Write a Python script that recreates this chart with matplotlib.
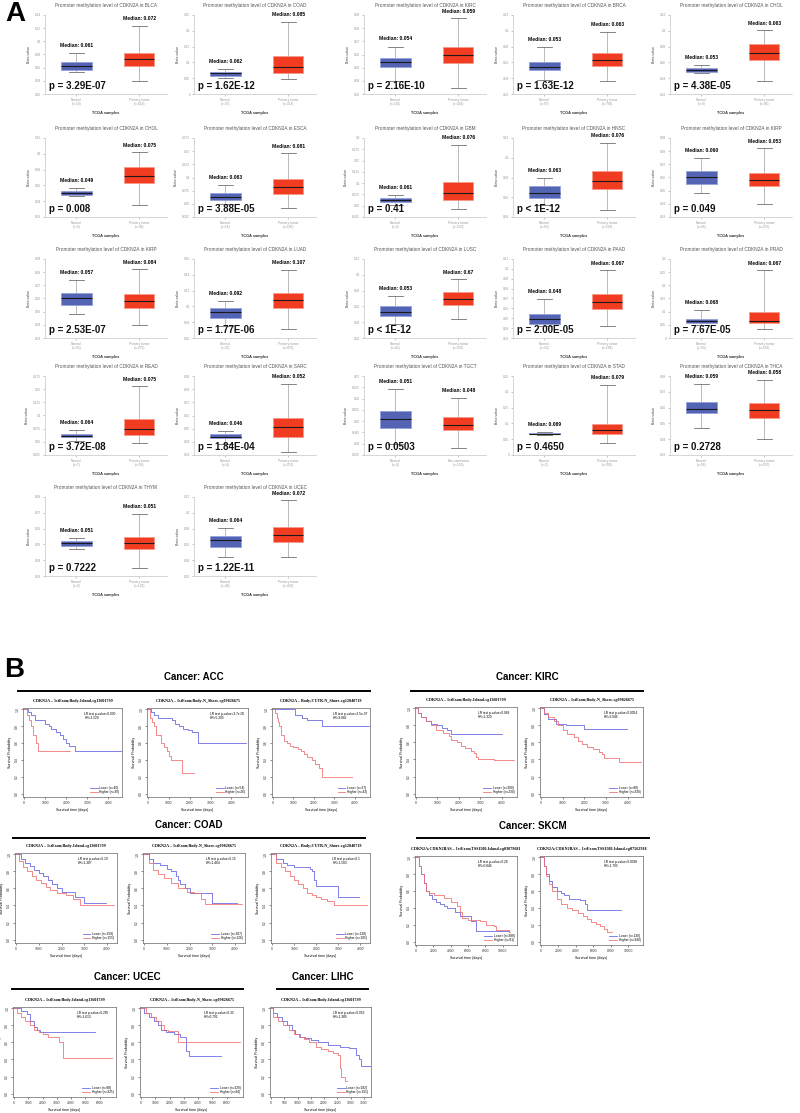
import matplotlib
matplotlib.use('Agg')
import matplotlib.pyplot as plt
from matplotlib.lines import Line2D
import numpy as np

plt.rcParams['font.family'] = ['Liberation Sans', 'DejaVu Sans']

W, H = 800, 1113
fig = plt.figure(figsize=(8, 11.13), dpi=100)

def px_axes(x, y, w, h):
    return fig.add_axes([x / W, 1 - (y + h) / H, w / W, h / H])

# ---------------- Panel A data ----------------
cancers = ['BLCA', 'COAD', 'KIRC', 'BRCA', 'CHOL',
           'CHOL', 'ESCA', 'GBM', 'HNSC', 'KIRP',
           'KIRP', 'LUAD', 'LUSC', 'PAAD', 'PRAD',
           'READ', 'SARC', 'TGCT', 'STAD', 'THCA',
           'THYM', 'UCEC']
# [whislo, q1, med, q3, whishi]
normal_stats = [
    [0.0535, 0.0565, 0.062, 0.0685, 0.0825],
    [0.050, 0.058, 0.065, 0.071, 0.079],
    [0.040, 0.0505, 0.0545, 0.0573, 0.066],
    [0.038, 0.050, 0.0536, 0.060, 0.079],
    [0.0465, 0.048, 0.0503, 0.0523, 0.0566],
    [0.0466, 0.0483, 0.0508, 0.0533, 0.0563],
    [0.0497, 0.0567, 0.063, 0.0706, 0.0858],
    [0.051, 0.0577, 0.0636, 0.068, 0.074],
    [0.052, 0.0595, 0.064, 0.0714, 0.0795],
    [0.0482, 0.0553, 0.0604, 0.0647, 0.0746],
    [0.048, 0.0551, 0.0601, 0.0642, 0.0738],
    [0.0752, 0.085, 0.0925, 0.0976, 0.1068],
    [0.0377, 0.0478, 0.0525, 0.060, 0.0732],
    [0.0418, 0.0438, 0.0489, 0.0546, 0.0698],
    [0.050, 0.057, 0.0646, 0.073, 0.106],
    [0.052, 0.059, 0.061, 0.0643, 0.0725],
    [0.0384, 0.043, 0.044, 0.046, 0.048],
    [0.040, 0.0471, 0.0511, 0.0544, 0.0644],
    [0.064, 0.065, 0.067, 0.0695, 0.072],
    [0.0472, 0.0564, 0.0594, 0.0634, 0.0747],
    [0.047, 0.0491, 0.0511, 0.0521, 0.054],
    [0.0443, 0.0562, 0.0655, 0.0702, 0.0804],
]
tumor_stats = [
    [0.0395, 0.0625, 0.0725, 0.0825, 0.124],
    [0.047, 0.068, 0.085, 0.121, 0.229],
    [0.0346, 0.0535, 0.0595, 0.066, 0.0875],
    [0.0368, 0.0549, 0.0633, 0.0717, 0.099],
    [0.036, 0.0633, 0.0717, 0.0834, 0.101],
    [0.0356, 0.0635, 0.0715, 0.0833, 0.1018],
    [0.0427, 0.0693, 0.082, 0.0978, 0.1465],
    [0.043, 0.0628, 0.0776, 0.1034, 0.185],
    [0.0474, 0.0683, 0.0768, 0.0866, 0.115],
    [0.040, 0.0533, 0.0584, 0.0634, 0.0824],
    [0.0399, 0.053, 0.0581, 0.0632, 0.0822],
    [0.071, 0.0984, 0.1077, 0.1165, 0.1465],
    [0.0445, 0.0614, 0.0698, 0.0787, 0.0947],
    [0.042, 0.059, 0.0667, 0.0745, 0.0989],
    [0.034, 0.056, 0.065, 0.100, 0.258],
    [0.0484, 0.063, 0.0737, 0.094, 0.156],
    [0.032, 0.044, 0.051, 0.0579, 0.0842],
    [0.038, 0.046, 0.0482, 0.052, 0.0603],
    [0.038, 0.066, 0.080, 0.098, 0.222],
    [0.0402, 0.0532, 0.0585, 0.0626, 0.0777],
    [0.035, 0.0468, 0.0511, 0.0549, 0.0694],
    [0.044, 0.0625, 0.0723, 0.0826, 0.116],
]
normal_median_labels = ['0.061', '0.062', '0.054', '0.053', '0.053',
                        '0.049', '0.063', '0.061', '0.063', '0.060',
                        '0.057', '0.092', '0.053', '0.048', '0.068',
                        '0.064', '0.046', '0.051', '0.069', '0.059',
                        '0.051', '0.064']
tumor_median_labels = ['0.072', '0.085', '0.059', '0.063', '0.063',
                       '0.075', '0.081', '0.076', '0.076', '0.053',
                       '0.084', '0.107', '0.67', '0.067', '0.067',
                       '0.075', '0.052', '0.048', '0.079', '0.058',
                       '0.051', '0.072']
p_values = ['p = 3.29E-07', 'p = 1.62E-12', 'p = 2.16E-10', 'p = 1.63E-12', 'p = 4.38E-05',
            'p = 0.008', 'p = 3.88E-05', 'p = 0.41', 'p < 1E-12', 'p = 0.049',
            'p = 2.53E-07', 'p = 1.77E-06', 'p < 1E-12', 'p = 2.00E-05', 'p = 7.67E-05',
            'p = 3.72E-08', 'p = 1.84E-04', 'p = 0.0503', 'p = 0.4650', 'p = 0.2728',
            'p = 0.7222', 'p = 1.22E-11']
normal_n = [19, 37, 160, 97, 9, 9, 16, 2, 50, 45, 45, 32, 42, 10, 50, 7, 4, 4, 2, 56, 2, 46]
tumor_n = [418, 313, 324, 793, 36, 36, 185, 140, 528, 275, 275, 473, 370, 184, 503, 98, 261, 156, 395, 507, 124, 438]
y_ranges = [(0.02, 0.14, 0.02), (0.0, 0.25, 0.05), (0.03, 0.09, 0.01), (0.02, 0.12, 0.02), (0.02, 0.12, 0.02),
            (0.02, 0.12, 0.02), (0.025, 0.175, 0.025), (0.025, 0.2, 0.025), (0.04, 0.12, 0.02), (0.03, 0.09, 0.01),
            (0.03, 0.09, 0.01), (0.06, 0.16, 0.02), (0.02, 0.12, 0.02), (0.03, 0.11, 0.01), (0.0, 0.3, 0.05),
            (0.025, 0.175, 0.025), (0.03, 0.09, 0.01), (0.035, 0.07, 0.005), (0.0, 0.25, 0.05), (0.03, 0.08, 0.01),
            (0.03, 0.08, 0.01), (0.02, 0.12, 0.02)]

col_left = [45, 194, 364, 513, 670]
row_top = [15, 138, 259, 376, 497]
BOX_W, BOX_H = 122, 79

def fmt_tick(v):
    s = ('%.3f' % v).rstrip('0').rstrip('.')
    return s if s else '0'

for i, cname in enumerate(cancers):
    r, c = divmod(i, 5)
    ax = px_axes(col_left[c], row_top[r], BOX_W, BOX_H)
    keys = ['whislo', 'q1', 'med', 'q3', 'whishi']
    st_n = dict(zip(keys, normal_stats[i]))
    st_t = dict(zip(keys, tumor_stats[i]))
    bp = ax.bxp([st_n, st_t], positions=[1, 2], widths=0.48, patch_artist=True,
                showfliers=False, capwidths=0.24,
                medianprops=dict(color='#1a1a1a', lw=0.8),
                whiskerprops=dict(color='#a0a0a0', lw=0.5),
                capprops=dict(color='#707070', lw=0.6))
    bp['boxes'][0].set(facecolor='#5464b4', edgecolor='#95a0dc', lw=0.6)
    bp['boxes'][1].set(facecolor='#f23c22', edgecolor='#f79a8c', lw=0.6)
    lo, hi, step = y_ranges[i]
    ax.set_ylim(lo, hi)
    ticks = np.arange(lo, hi + step / 2, step)
    ax.set_yticks(ticks)
    ax.set_yticklabels([fmt_tick(t) for t in ticks])
    ax.set_xlim(0.5, 2.44)
    ax.set_xticks([1, 2])
    tlabel = 'Non-seminoma' if cname == 'TGCT' else 'Primary tumor'
    ax.set_xticklabels(['Normal\n(n=%d)' % normal_n[i], '%s\n(n=%d)' % (tlabel, tumor_n[i])])
    ax.tick_params(axis='both', labelsize=2.3, colors='#999999', length=1.5, width=0.4, pad=1.2)
    for sp in ['top', 'right']:
        ax.spines[sp].set_visible(False)
    for sp in ['left', 'bottom']:
        ax.spines[sp].set_color('#cfcfcf')
        ax.spines[sp].set_linewidth(0.6)
    ax.set_title('Promoter methylation level of CDKN2A in %s' % cname, fontsize=3.4, color='#555555', pad=6)
    ax.set_ylabel('Beta value', fontsize=2.6, color='#444444', labelpad=3)
    ax.set_xlabel('TCGA samples', fontsize=2.8, color='#333333', fontweight='bold', labelpad=3)
    ax.annotate('Median: %s' % normal_median_labels[i], (1, st_n['whishi']), xytext=(0, 5.5),
                textcoords='offset points', ha='center', va='center', fontsize=3.6, fontweight='bold')
    ax.annotate('Median: %s' % tumor_median_labels[i], (2, st_t['whishi']), xytext=(0, 5.0),
                textcoords='offset points', ha='center', va='center', fontsize=3.6, fontweight='bold')
    ax.text(0.03, 0.035, p_values[i], transform=ax.transAxes, fontsize=7, fontweight='bold',
            ha='left', va='bottom', color='#111111')

fig.text(5 / W, 1 - 14 / H, 'A', fontsize=20, fontweight='bold', ha='left', va='center')
fig.text(4 / W, 1 - 670 / H, 'B', fontsize=20, fontweight='bold', ha='left', va='center')

# ---------------- Panel B data ----------------
probe_island = 'CDKN2A \u2013 1stExon;Body-Island-cg13601799'
probe_nshore = 'CDKN2A \u2013 1stExon;Body-N_Shore-cg09826675'
probe_utr = "CDKN2A \u2013 Body;3'UTR-N_Shore-cg12840719"
probe_skcm1 = 'CDKN2A;CDKN2BAS \u2013 1stExon;TSS1500-Island-cg03079681'
probe_skcm2 = 'CDKN2A;CDKN2BAS \u2013 1stExon;TSS1500-Island-cg07562918'

ACC1_low_t = [0, 200, 350, 500, 1000, 1200, 1300, 1500, 1700, 1850, 2000, 2150, 2400, 4600]
ACC1_low_s = [1.0, 0.97, 0.93, 0.87, 0.83, 0.80, 0.77, 0.73, 0.70, 0.65, 0.60, 0.57, 0.50, 0.50]
ACC1_high_t = [0, 150, 250, 350, 450, 550, 650, 2200]
ACC1_high_s = [1.0, 0.93, 0.87, 0.80, 0.70, 0.60, 0.50, 0.50]

ACC2_low_t = [0, 150, 300, 500, 1150, 1300, 1500, 1700, 1900, 2100, 2400, 4700]
ACC2_low_s = [1.0, 0.97, 0.93, 0.90, 0.87, 0.83, 0.80, 0.77, 0.75, 0.73, 0.60, 0.60]
ACC2_high_t = [0, 100, 200, 290, 400, 600, 750, 920, 1000, 1100, 1630, 2220]
ACC2_high_s = [1.0, 0.90, 0.85, 0.80, 0.70, 0.60, 0.55, 0.50, 0.45, 0.40, 0.24, 0.24]

ACC3_low_t = [0, 1100, 1400, 1650, 2400, 4700]
ACC3_low_s = [1.0, 0.93, 0.90, 0.87, 0.80, 0.80]
ACC3_high_t = [0, 80, 180, 250, 300, 370, 530, 700, 850, 1000, 1230, 1350, 1530, 1660, 1900, 2060, 2250, 2420, 3890]
ACC3_high_s = [1.0, 0.95, 0.90, 0.85, 0.80, 0.70, 0.62, 0.60, 0.57, 0.55, 0.53, 0.50, 0.47, 0.43, 0.40, 0.35, 0.30, 0.20, 0.20]

KIRC1_low_t = [0, 100, 230, 460, 700, 1000, 1230, 1460, 1620, 4000]
KIRC1_low_s = [1.0, 0.95, 0.90, 0.85, 0.82, 0.80, 0.77, 0.74, 0.70, 0.70]
KIRC1_high_t = [0, 100, 230, 460, 700, 950, 1250, 1550, 1650, 1900, 2100, 2300, 2550, 2700, 2800, 2880, 3640, 4540]
KIRC1_high_s = [1.0, 0.95, 0.90, 0.85, 0.80, 0.75, 0.71, 0.68, 0.63, 0.60, 0.56, 0.53, 0.50, 0.47, 0.43, 0.40, 0.39, 0.39]

KIRC2_low_t = [0, 150, 300, 700, 1150, 1970, 3970]
KIRC2_low_s = [1.0, 0.93, 0.88, 0.82, 0.80, 0.76, 0.76]
KIRC2_high_t = [0, 150, 300, 600, 800, 1000, 1200, 1500, 1700, 1900, 2100, 2400, 2650, 2800, 2880, 3600, 4600]
KIRC2_high_s = [1.0, 0.95, 0.90, 0.85, 0.80, 0.75, 0.70, 0.66, 0.62, 0.58, 0.55, 0.52, 0.49, 0.46, 0.42, 0.37, 0.37]

COAD1_low_t = [0, 200, 400, 600, 800, 1000, 1200, 1400, 1600, 1800, 2000, 2600, 3000, 3950]
COAD1_low_s = [1.0, 0.95, 0.90, 0.86, 0.82, 0.78, 0.74, 0.70, 0.65, 0.60, 0.56, 0.50, 0.43, 0.43]
COAD1_high_t = [0, 150, 300, 500, 700, 900, 1100, 1300, 1500, 1800, 2200, 2500, 2800, 4300]
COAD1_high_s = [1.0, 0.92, 0.85, 0.80, 0.75, 0.70, 0.66, 0.62, 0.58, 0.55, 0.52, 0.47, 0.41, 0.41]

COAD2_low_t = [0, 200, 400, 700, 1000, 1200, 1400, 1500, 1600, 1800, 2000, 3000, 4100]
COAD2_low_s = [1.0, 0.95, 0.90, 0.87, 0.83, 0.80, 0.75, 0.70, 0.65, 0.60, 0.55, 0.43, 0.43]
COAD2_high_t = [0, 200, 400, 600, 900, 1200, 1500, 1900, 2200, 2500, 2700, 4300]
COAD2_high_s = [1.0, 0.90, 0.82, 0.77, 0.72, 0.66, 0.60, 0.56, 0.55, 0.47, 0.42, 0.42]

COAD3_low_t = [0, 200, 500, 700, 1000, 1700, 1800, 1900, 2000, 3000, 3950]
COAD3_low_s = [1.0, 0.95, 0.90, 0.87, 0.85, 0.83, 0.80, 0.70, 0.63, 0.50, 0.50]
COAD3_high_t = [0, 200, 400, 600, 800, 1000, 1200, 1400, 1600, 1800, 2000, 2200, 2500, 2800, 4300]
COAD3_high_s = [1.0, 0.90, 0.85, 0.80, 0.75, 0.70, 0.65, 0.60, 0.55, 0.52, 0.50, 0.48, 0.45, 0.40, 0.40]

SKCM1_low_t = [0, 300, 600, 900, 1150, 1500, 1900, 2300, 2800, 3200, 3600, 4500, 5100, 6400, 6900, 10750]
SKCM1_low_s = [1.0, 0.90, 0.80, 0.70, 0.60, 0.55, 0.50, 0.47, 0.45, 0.42, 0.40, 0.35, 0.30, 0.25, 0.13, 0.13]
SKCM1_high_t = [0, 300, 600, 900, 1150, 1500, 2100, 3200, 4000, 4700, 5100, 5300, 6000, 7400, 8100, 9000, 9200, 10750, 10900]
SKCM1_high_s = [1.0, 0.90, 0.80, 0.70, 0.60, 0.58, 0.55, 0.52, 0.47, 0.42, 0.35, 0.28, 0.26, 0.25, 0.20, 0.18, 0.14, 0.11, 0.11]

SKCM2_low_t = [0, 300, 600, 900, 1300, 1800, 2300, 2600, 3200, 4500, 5000, 5300, 9100]
SKCM2_low_s = [1.0, 0.90, 0.80, 0.72, 0.65, 0.60, 0.58, 0.55, 0.50, 0.49, 0.45, 0.38, 0.38]
SKCM2_high_t = [0, 300, 600, 900, 1300, 1800, 2300, 3000, 3500, 4200, 4800, 5300, 5700, 6300, 6800, 7200, 7500, 8100]
SKCM2_high_s = [1.0, 0.90, 0.78, 0.68, 0.60, 0.50, 0.45, 0.40, 0.37, 0.34, 0.30, 0.27, 0.23, 0.21, 0.18, 0.15, 0.12, 0.12]

UCEC1_low_t = [0, 460, 900, 1150, 1380, 1600, 1830, 5700]
UCEC1_low_s = [1.0, 0.97, 0.93, 0.85, 0.78, 0.75, 0.72, 0.72]
UCEC1_high_t = [0, 230, 500, 800, 1150, 1380, 1720, 2000, 2400, 3160, 3400, 6900]
UCEC1_high_s = [1.0, 0.95, 0.90, 0.85, 0.80, 0.75, 0.72, 0.70, 0.66, 0.60, 0.42, 0.42]

UCEC2_low_t = [0, 230, 580, 930, 1160, 1400, 1740, 2300, 2700, 3140, 3370, 5580]
UCEC2_low_s = [1.0, 0.95, 0.90, 0.85, 0.80, 0.75, 0.72, 0.70, 0.66, 0.50, 0.44, 0.44]
UCEC2_high_t = [0, 350, 700, 1050, 1400, 1630, 1860, 2560, 6930]
UCEC2_high_s = [1.0, 0.95, 0.90, 0.85, 0.80, 0.75, 0.73, 0.60, 0.60]

LIHC_low_t = [0, 90, 220, 410, 600, 800, 920, 1100, 1300, 1500, 1760, 2140, 2590, 2950, 3200, 3300, 3380, 3770]
LIHC_low_s = [1.0, 0.95, 0.90, 0.85, 0.80, 0.75, 0.70, 0.66, 0.65, 0.63, 0.60, 0.57, 0.55, 0.53, 0.45, 0.40, 0.32, 0.32]
LIHC_high_t = [0, 90, 280, 470, 670, 860, 1050, 1240, 1440, 1690, 1880, 2140, 2330, 2530, 2590, 2620, 2650, 2800, 2870]
LIHC_high_s = [1.0, 0.90, 0.85, 0.80, 0.75, 0.70, 0.66, 0.64, 0.60, 0.55, 0.52, 0.50, 0.47, 0.45, 0.42, 0.30, 0.20, 0.15, 0.15]

km_plots = [
    (probe_island, ACC1_low_t, ACC1_low_s, ACC1_high_t, ACC1_high_s, '0.030', '2.529', 40, 39, 4650, 1000, (23, 708, 99, 89)),
    (probe_nshore, ACC2_low_t, ACC2_low_s, ACC2_high_t, ACC2_high_s, '3.7e-05', '5.203', 54, 26, 4800, 1000, (147, 708, 101, 89)),
    (probe_utr, ACC3_low_t, ACC3_low_s, ACC3_high_t, ACC3_high_s, '2.5e-07', '9.082', 37, 43, 4750, 1000, (272, 708, 98, 89)),
    (probe_island, KIRC1_low_t, KIRC1_low_s, KIRC1_high_t, KIRC1_high_s, '0.089', '1.320', 300, 230, 4700, 1000, (415, 707, 102, 90)),
    (probe_nshore, KIRC2_low_t, KIRC2_low_s, KIRC2_high_t, KIRC2_high_s, '0.0054', '2.046', 80, 330, 4700, 1000, (540, 707, 103, 90)),
    (probe_island, COAD1_low_t, COAD1_low_s, COAD1_high_t, COAD1_high_s, '0.19', '1.387', 158, 155, 4440, 1000, (15, 853, 102, 90)),
    (probe_nshore, COAD2_low_t, COAD2_low_s, COAD2_high_t, COAD2_high_s, '0.15', '1.464', 187, 126, 4440, 1000, (143, 853, 102, 90)),
    (probe_utr, COAD3_low_t, COAD3_low_s, COAD3_high_t, COAD3_high_s, '0.1', '1.503', 128, 185, 4440, 1000, (271, 853, 99, 90)),
    (probe_skcm1, SKCM1_low_t, SKCM1_low_s, SKCM1_high_t, SKCM1_high_s, '0.28', '0.846', 388, 81, 11670, 2000, (415, 856, 102, 89)),
    (probe_skcm2, SKCM2_low_t, SKCM2_low_s, SKCM2_high_t, SKCM2_high_s, '0.0098', '1.793', 130, 340, 11670, 2000, (540, 856, 103, 89)),
    (probe_island, UCEC1_low_t, UCEC1_low_s, UCEC1_high_t, UCEC1_high_s, '0.285', '1.613', 88, 325, 7150, 1000, (13, 1007, 103, 90)),
    (probe_nshore, UCEC2_low_t, UCEC2_low_s, UCEC2_high_t, UCEC2_high_s, '0.33', '0.792', 329, 84, 7150, 1000, (140, 1007, 103, 90)),
    (probe_island, LIHC_low_t, LIHC_low_s, LIHC_high_t, LIHC_high_s, '0.052', '1.389', 182, 191, 3770, 500, (270, 1007, 101, 90)),
]

BLUE = '#5c5ce0'
RED = '#f06a6a'

for (title, lt, ls, ht, hs, pv, hr, nl, nh, xmax, xstep, box) in km_plots:
    ax = px_axes(*box)
    ax.step(lt, ls, where='post', color=BLUE, lw=0.55, label='Lower (n=%d)' % nl)
    ax.step(ht, hs, where='post', color=RED, lw=0.55, label='Higher (n=%d)' % nh)
    ax.set_xlim(-xmax * 0.01, xmax)
    ax.set_ylim(-0.04, 1.015)
    ax.set_xticks(np.arange(0, xmax - xstep * 0.3, xstep))
    ax.set_yticks([0, 0.2, 0.4, 0.6, 0.8, 1.0])
    ax.set_yticklabels(['0.0', '0.2', '0.4', '0.6', '0.8', '1.0'], rotation=90, va='center')
    ax.tick_params(labelsize=2.4, length=1.5, width=0.4, pad=1.2, colors='#333333')
    for sp in ax.spines.values():
        sp.set_color('#666666')
        sp.set_linewidth(0.5)
    ax.set_xlabel('Survival time (days)', fontsize=2.6, labelpad=2)
    ax.set_ylabel('Survival Probability', fontsize=2.6, labelpad=2)
    ax.set_title(title, fontsize=3.0, fontweight='bold', family=['Liberation Serif', 'DejaVu Serif'], pad=4)
    ax.text(0.62, 0.96, 'LR test p-value=%s\nHR=%s' % (pv, hr), transform=ax.transAxes,
            fontsize=2.3, ha='left', va='top', linespacing=1.1)
    ax.legend(loc='lower right', fontsize=2.3, frameon=False, handlelength=2.4,
              borderaxespad=0.4, labelspacing=0.15, handletextpad=0.6)

headings = [
    ('Cancer: ACC', 18, 370, 677, 691),
    ('Cancer: KIRC', 411, 643, 677, 691),
    ('Cancer: COAD', 13, 365, 825, 838),
    ('Cancer: SKCM', 417, 649, 826, 838),
    ('Cancer: UCEC', 12, 243, 977, 989),
    ('Cancer: LIHC', 277, 368, 977, 989),
]
for (txt, x1, x2, ty, ly) in headings:
    fig.text((x1 + x2) / 2 / W, 1 - ty / H, txt, fontsize=7, fontweight='bold', ha='center', va='center')
    fig.add_artist(Line2D([x1 / W, x2 / W], [1 - ly / H, 1 - ly / H], color='black', lw=1.4))

fig.savefig('out.png', dpi=100)
